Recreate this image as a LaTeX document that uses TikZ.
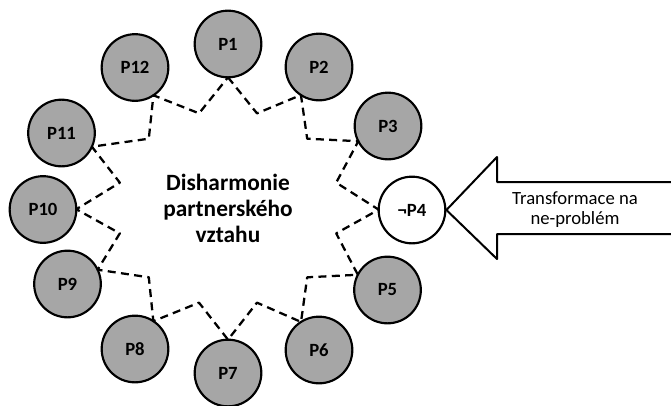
\documentclass[tikz,border=0pt]{standalone}
\usepackage{fontspec}
\setmainfont{Carlito}
\usetikzlibrary{calc}
\definecolor{ringgray}{HTML}{A6A6A6}
\begin{document}
\begin{tikzpicture}[x=0.75pt, y=0.75pt, line join=round,
  problem/.style={circle, draw, line width=1.6pt, fill=ringgray, minimum size=50pt, inner sep=0pt,
    font=\fontsize{14}{17}\selectfont\bfseries},
  solved/.style={problem, fill=white},
  starline/.style={line width=1.7pt, dash pattern=on 6pt off 4pt}]
\useasboundingbox (0,0) rectangle (671,405);
% Poloosy vnitrnich vrcholu hvezdy
\def\rx{112}
\def\ry{98}
\coordinate (c) at (228,197);
% Problemy na obvodu
\foreach \n/\x/\y in {1/228/361, 2/319/338, 3/388/279, 5/387.5/115, 6/319/55, 7/228/32,
  8/135/56, 9/67.5/121, 10/43/195.5, 11/61.5/272, 12/135/337.5}
  \node[problem] (p\n) at (\x,\y) {P\n};
\node[solved] (p4) at (412,195) {¬P4};
% Hroty hvezdy na kruzich a vnitrni vrcholy
\foreach \i in {1,...,12}{
  \coordinate (tip\i) at ($(p\i)!25pt!(c)$);
  \coordinate (in\i) at ($(c)+({75-30*(\i-1)}:{\rx} and {\ry})$);
}
\coordinate (tip13) at (tip1);
\draw[starline] (tip1) foreach \i [count=\k from 2] in {1,...,12} {-- (in\i) -- (tip\k)};
% Text uprostred
\node[font=\fontsize{17.5}{19.5}\selectfont\bfseries, align=center] (title) at (c)
  {Disharmonie\\partnerského\\vztahu};
% Sipka s transformaci
\draw[line width=1.5pt] (671,223) -- (497,223) -- (497,248) -- (p4.east)
  -- (497,146) -- (497,171) -- (671,171);
\node[font=\fontsize{14}{15}\selectfont, align=center] (trans) at (575,195)
  {Transformace na\\ne-problém};
\end{tikzpicture}
\end{document}
